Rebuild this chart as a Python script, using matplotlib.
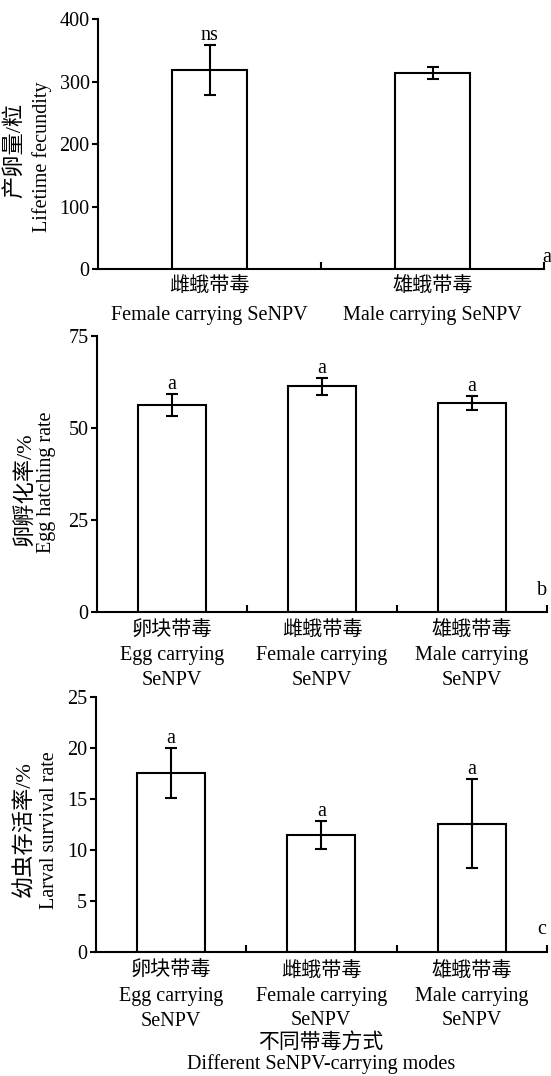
import matplotlib
matplotlib.use("Agg")
import matplotlib.pyplot as plt
from matplotlib.ticker import FixedLocator

FAM = ['Liberation Serif', 'Noto Sans CJK SC']
plt.rcParams['font.family'] = FAM
FS = 14.5
plt.rcParams['font.size'] = FS

# ---- data ----
a_cats_cn = ['雌蛾带毒', '雄蛾带毒']
a_cats_en = ['Female carrying SeNPV', 'Male carrying SeNPV']
a_vals = [318, 314]
a_err = [40, 9.5]
a_sig = ['ns', '']
a_yticks = [0, 100, 200, 300, 400]

b_cats_cn = ['卵块带毒', '雌蛾带毒', '雄蛾带毒']
b_cats_en = ['Egg carrying\nSeNPV', 'Female carrying\nSeNPV', 'Male carrying\nSeNPV']
b_vals = [56.1, 61.2, 56.8]
b_err = [3.0, 2.4, 1.9]
b_sig = ['a', 'a', 'a']
b_yticks = [0, 25, 50, 75]

c_vals = [17.6, 11.5, 12.6]
c_err = [2.45, 1.4, 4.4]
c_sig = ['a', 'a', 'a']
c_yticks = [0, 5, 10, 15, 20, 25]

W, H = 551, 1076
fig = plt.figure(figsize=(W / 100, H / 100), dpi=100)


def ax_at(l, r, t, b):
    return fig.add_axes([l / W, 1 - b / H, (r - l) / W, (b - t) / H])


def style(ax, n, yticks, labels, bw, vals, errs, sigs, pad, ls):
    x = list(range(n))
    ax.bar(x, vals, width=bw, color='white', edgecolor='black', linewidth=1.5, zorder=2)
    ax.errorbar(x, vals, yerr=errs, fmt='none', ecolor='black', elinewidth=1.5,
                capsize=4, capthick=1.5, zorder=3)
    for xi, v, e, s in zip(x, vals, errs, sigs):
        if s:
            ax.annotate(s, (xi, v + e), xytext=(0, 3.5), textcoords='offset points',
                        ha='center', va='baseline', fontsize=FS)
    ax.set_xlim(-0.5, n - 0.5)
    ax.set_ylim(yticks[0], yticks[-1])
    ax.set_yticks(yticks)
    ax.set_xticks(x)
    ax.set_xticklabels(labels)
    for lab in ax.get_xticklabels():
        lab.set_linespacing(ls)
    ax.xaxis.set_minor_locator(FixedLocator([i + 0.5 for i in range(n)]))
    ax.tick_params(axis='x', which='major', length=0, pad=pad, labelsize=FS)
    ax.tick_params(axis='x', which='minor', direction='in', length=5, width=1.5)
    ax.tick_params(axis='y', direction='out', length=4, width=1.5, pad=2, labelsize=FS)
    for sp in ['top', 'right']:
        ax.spines[sp].set_visible(False)
    for sp in ['left', 'bottom']:
        ax.spines[sp].set_linewidth(1.5)


# panel a
axa = ax_at(98, 544, 19, 269.3)
style(axa, 2, a_yticks, [c + '\n' + e for c, e in zip(a_cats_cn, a_cats_en)], 0.336,
      a_vals, a_err, a_sig, 5.5, 1.75)
axa.text(1.007, 0.029, 'a', transform=axa.transAxes, ha='center', va='baseline', fontsize=FS)

# panel b
axb = ax_at(97, 547, 335.7, 611.7)
style(axb, 3, b_yticks, [c + '\n' + e for c, e in zip(b_cats_cn, b_cats_en)], 0.45,
      b_vals, b_err, b_sig, 7, 1.42)
axb.text(0.990, 0.0605, 'b', transform=axb.transAxes, ha='center', va='baseline', fontsize=FS)

# panel c
axc = ax_at(95.5, 547, 697.3, 952)
style(axc, 3, c_yticks, [c + '\n' + e for c, e in zip(b_cats_cn, b_cats_en)], 0.45,
      c_vals, c_err, c_sig, 7, 1.42)
axc.text(0.989, 0.0707, 'c', transform=axc.transAxes, ha='center', va='baseline', fontsize=FS)

# y labels
def ftext(x, y, s, **kw):
    fig.text(x / W, 1 - y / H, s, ha='center', va='center', **kw)

ftext(15, 150, '产卵量/粒', rotation=90, fontsize=16)
ftext(42, 157, 'Lifetime fecundity', rotation=90, fontsize=FS)
ftext(26, 489, '卵孵化率/%', rotation=90, fontsize=16)
ftext(47, 482, 'Egg hatching rate', rotation=90, fontsize=FS)
ftext(25, 829.5, '幼虫存活率/%', rotation=90, fontsize=16)
ftext(50, 830, 'Larval survival rate', rotation=90, fontsize=FS)

# x label
ftext(321, 1043, '不同带毒方式', fontsize=15)
ftext(321, 1064, 'Different SeNPV-carrying modes', fontsize=FS)

fig.savefig('out.png', dpi=100)
